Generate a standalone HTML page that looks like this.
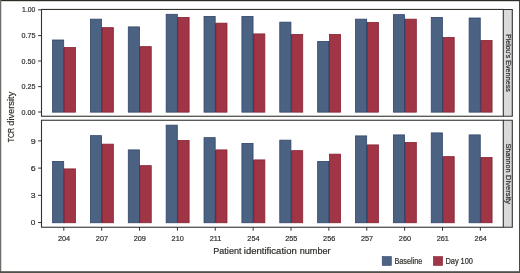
<!DOCTYPE html>
<html><head><meta charset="utf-8"><title>TCR diversity</title>
<style>html,body{margin:0;padding:0;background:#fff}svg{display:block}text{font-family:"Liberation Sans",sans-serif;fill:#2e2e2a;stroke:#2e2e2a;stroke-width:0.2px}</style></head>
<body>
<svg width="520" height="273" viewBox="0 0 520 273">
<rect x="0" y="0" width="520" height="273" fill="#fff"/>
<rect x="63.10" y="47.60" width="1.6" height="64.45" fill="#30466a"/>
<rect x="52.55" y="40.00" width="11.15" height="72.15" fill="#4c6283" stroke="#30466a" stroke-width="0.8"/>
<rect x="64.50" y="47.50" width="11.00" height="64.65" fill="#a03545" stroke="#872233" stroke-width="0.8"/>
<rect x="100.97" y="27.75" width="1.6" height="84.30" fill="#30466a"/>
<rect x="90.42" y="19.15" width="11.15" height="93.00" fill="#4c6283" stroke="#30466a" stroke-width="0.8"/>
<rect x="102.37" y="27.65" width="11.00" height="84.50" fill="#a03545" stroke="#872233" stroke-width="0.8"/>
<rect x="138.84" y="46.75" width="1.6" height="65.30" fill="#30466a"/>
<rect x="128.29" y="26.90" width="11.15" height="85.25" fill="#4c6283" stroke="#30466a" stroke-width="0.8"/>
<rect x="140.24" y="46.65" width="11.00" height="65.50" fill="#a03545" stroke="#872233" stroke-width="0.8"/>
<rect x="176.71" y="17.50" width="1.6" height="94.55" fill="#30466a"/>
<rect x="166.16" y="14.30" width="11.15" height="97.85" fill="#4c6283" stroke="#30466a" stroke-width="0.8"/>
<rect x="178.11" y="17.40" width="11.00" height="94.75" fill="#a03545" stroke="#872233" stroke-width="0.8"/>
<rect x="214.58" y="23.25" width="1.6" height="88.80" fill="#30466a"/>
<rect x="204.03" y="16.40" width="11.15" height="95.75" fill="#4c6283" stroke="#30466a" stroke-width="0.8"/>
<rect x="215.98" y="23.15" width="11.00" height="89.00" fill="#a03545" stroke="#872233" stroke-width="0.8"/>
<rect x="252.45" y="34.00" width="1.6" height="78.05" fill="#30466a"/>
<rect x="241.90" y="16.40" width="11.15" height="95.75" fill="#4c6283" stroke="#30466a" stroke-width="0.8"/>
<rect x="253.85" y="33.90" width="11.00" height="78.25" fill="#a03545" stroke="#872233" stroke-width="0.8"/>
<rect x="290.32" y="34.50" width="1.6" height="77.55" fill="#30466a"/>
<rect x="279.77" y="22.15" width="11.15" height="90.00" fill="#4c6283" stroke="#30466a" stroke-width="0.8"/>
<rect x="291.72" y="34.40" width="11.00" height="77.75" fill="#a03545" stroke="#872233" stroke-width="0.8"/>
<rect x="328.19" y="41.50" width="1.6" height="70.55" fill="#30466a"/>
<rect x="317.64" y="41.40" width="11.15" height="70.75" fill="#4c6283" stroke="#30466a" stroke-width="0.8"/>
<rect x="329.59" y="34.40" width="11.00" height="77.75" fill="#a03545" stroke="#872233" stroke-width="0.8"/>
<rect x="366.06" y="22.50" width="1.6" height="89.55" fill="#30466a"/>
<rect x="355.51" y="19.15" width="11.15" height="93.00" fill="#4c6283" stroke="#30466a" stroke-width="0.8"/>
<rect x="367.46" y="22.40" width="11.00" height="89.75" fill="#a03545" stroke="#872233" stroke-width="0.8"/>
<rect x="403.93" y="19.25" width="1.6" height="92.80" fill="#30466a"/>
<rect x="393.38" y="14.65" width="11.15" height="97.50" fill="#4c6283" stroke="#30466a" stroke-width="0.8"/>
<rect x="405.33" y="19.15" width="11.00" height="93.00" fill="#a03545" stroke="#872233" stroke-width="0.8"/>
<rect x="441.80" y="37.50" width="1.6" height="74.55" fill="#30466a"/>
<rect x="431.25" y="17.40" width="11.15" height="94.75" fill="#4c6283" stroke="#30466a" stroke-width="0.8"/>
<rect x="443.20" y="37.40" width="11.00" height="74.75" fill="#a03545" stroke="#872233" stroke-width="0.8"/>
<rect x="479.67" y="40.50" width="1.6" height="71.55" fill="#30466a"/>
<rect x="469.12" y="18.00" width="11.15" height="94.15" fill="#4c6283" stroke="#30466a" stroke-width="0.8"/>
<rect x="481.07" y="40.40" width="11.00" height="71.75" fill="#a03545" stroke="#872233" stroke-width="0.8"/>
<rect x="63.10" y="169.00" width="1.6" height="53.65" fill="#30466a"/>
<rect x="52.55" y="161.40" width="11.15" height="61.35" fill="#4c6283" stroke="#30466a" stroke-width="0.8"/>
<rect x="64.50" y="168.90" width="11.00" height="53.85" fill="#a03545" stroke="#872233" stroke-width="0.8"/>
<rect x="100.97" y="144.25" width="1.6" height="78.40" fill="#30466a"/>
<rect x="90.42" y="135.65" width="11.15" height="87.10" fill="#4c6283" stroke="#30466a" stroke-width="0.8"/>
<rect x="102.37" y="144.15" width="11.00" height="78.60" fill="#a03545" stroke="#872233" stroke-width="0.8"/>
<rect x="138.84" y="165.75" width="1.6" height="56.90" fill="#30466a"/>
<rect x="128.29" y="149.90" width="11.15" height="72.85" fill="#4c6283" stroke="#30466a" stroke-width="0.8"/>
<rect x="140.24" y="165.65" width="11.00" height="57.10" fill="#a03545" stroke="#872233" stroke-width="0.8"/>
<rect x="176.71" y="140.50" width="1.6" height="82.15" fill="#30466a"/>
<rect x="166.16" y="125.15" width="11.15" height="97.60" fill="#4c6283" stroke="#30466a" stroke-width="0.8"/>
<rect x="178.11" y="140.40" width="11.00" height="82.35" fill="#a03545" stroke="#872233" stroke-width="0.8"/>
<rect x="214.58" y="150.00" width="1.6" height="72.65" fill="#30466a"/>
<rect x="204.03" y="137.65" width="11.15" height="85.10" fill="#4c6283" stroke="#30466a" stroke-width="0.8"/>
<rect x="215.98" y="149.90" width="11.00" height="72.85" fill="#a03545" stroke="#872233" stroke-width="0.8"/>
<rect x="252.45" y="160.00" width="1.6" height="62.65" fill="#30466a"/>
<rect x="241.90" y="143.40" width="11.15" height="79.35" fill="#4c6283" stroke="#30466a" stroke-width="0.8"/>
<rect x="253.85" y="159.90" width="11.00" height="62.85" fill="#a03545" stroke="#872233" stroke-width="0.8"/>
<rect x="290.32" y="150.75" width="1.6" height="71.90" fill="#30466a"/>
<rect x="279.77" y="140.15" width="11.15" height="82.60" fill="#4c6283" stroke="#30466a" stroke-width="0.8"/>
<rect x="291.72" y="150.65" width="11.00" height="72.10" fill="#a03545" stroke="#872233" stroke-width="0.8"/>
<rect x="328.19" y="161.50" width="1.6" height="61.15" fill="#30466a"/>
<rect x="317.64" y="161.40" width="11.15" height="61.35" fill="#4c6283" stroke="#30466a" stroke-width="0.8"/>
<rect x="329.59" y="154.15" width="11.00" height="68.60" fill="#a03545" stroke="#872233" stroke-width="0.8"/>
<rect x="366.06" y="145.00" width="1.6" height="77.65" fill="#30466a"/>
<rect x="355.51" y="135.90" width="11.15" height="86.85" fill="#4c6283" stroke="#30466a" stroke-width="0.8"/>
<rect x="367.46" y="144.90" width="11.00" height="77.85" fill="#a03545" stroke="#872233" stroke-width="0.8"/>
<rect x="403.93" y="142.50" width="1.6" height="80.15" fill="#30466a"/>
<rect x="393.38" y="134.90" width="11.15" height="87.85" fill="#4c6283" stroke="#30466a" stroke-width="0.8"/>
<rect x="405.33" y="142.40" width="11.00" height="80.35" fill="#a03545" stroke="#872233" stroke-width="0.8"/>
<rect x="441.80" y="156.75" width="1.6" height="65.90" fill="#30466a"/>
<rect x="431.25" y="132.90" width="11.15" height="89.85" fill="#4c6283" stroke="#30466a" stroke-width="0.8"/>
<rect x="443.20" y="156.65" width="11.00" height="66.10" fill="#a03545" stroke="#872233" stroke-width="0.8"/>
<rect x="479.67" y="157.50" width="1.6" height="65.15" fill="#30466a"/>
<rect x="469.12" y="134.90" width="11.15" height="87.85" fill="#4c6283" stroke="#30466a" stroke-width="0.8"/>
<rect x="481.07" y="157.40" width="11.00" height="65.35" fill="#a03545" stroke="#872233" stroke-width="0.8"/>
<rect x="503.3" y="9.45" width="9.00" height="106.80" fill="#dbd9da"/>
<path d="M503.3 9.45H512.3V116.25H503.3" fill="none" stroke="#33332e" stroke-width="1.1"/>
<rect x="41.5" y="9.45" width="461.80" height="106.80" fill="none" stroke="#33332e" stroke-width="1.1"/>
<rect x="503.3" y="120.25" width="9.00" height="107.00" fill="#dbd9da"/>
<path d="M503.3 120.25H512.3V227.25H503.3" fill="none" stroke="#33332e" stroke-width="1.1"/>
<rect x="41.5" y="120.25" width="461.80" height="107.00" fill="none" stroke="#33332e" stroke-width="1.1"/>
<line x1="38.1" x2="41.5" y1="112.0" y2="112.0" stroke="#33332e" stroke-width="1"/>
<text x="21.58" y="114.5" font-size="8" textLength="13.85" lengthAdjust="spacingAndGlyphs">0.00</text>
<line x1="38.1" x2="41.5" y1="86.6" y2="86.6" stroke="#33332e" stroke-width="1"/>
<text x="21.58" y="89.1" font-size="8" textLength="13.97" lengthAdjust="spacingAndGlyphs">0.25</text>
<line x1="38.1" x2="41.5" y1="61.0" y2="61.0" stroke="#33332e" stroke-width="1"/>
<text x="21.58" y="63.5" font-size="8" textLength="13.85" lengthAdjust="spacingAndGlyphs">0.50</text>
<line x1="38.1" x2="41.5" y1="35.6" y2="35.6" stroke="#33332e" stroke-width="1"/>
<text x="21.58" y="38.1" font-size="8" textLength="13.97" lengthAdjust="spacingAndGlyphs">0.75</text>
<line x1="38.1" x2="41.5" y1="9.85" y2="9.85" stroke="#33332e" stroke-width="1"/>
<text x="22.07" y="12.35" font-size="8" textLength="13.35" lengthAdjust="spacingAndGlyphs">1.00</text>
<line x1="38.1" x2="41.5" y1="222.55" y2="222.55" stroke="#33332e" stroke-width="1"/>
<text x="30.84" y="225.4" font-size="8" textLength="4.62" lengthAdjust="spacingAndGlyphs">0</text>
<line x1="38.1" x2="41.5" y1="195.33" y2="195.33" stroke="#33332e" stroke-width="1"/>
<text x="30.83" y="198.18" font-size="8" textLength="4.76" lengthAdjust="spacingAndGlyphs">3</text>
<line x1="38.1" x2="41.5" y1="168.1" y2="168.1" stroke="#33332e" stroke-width="1"/>
<text x="30.69" y="170.95" font-size="8" textLength="4.92" lengthAdjust="spacingAndGlyphs">6</text>
<line x1="38.1" x2="41.5" y1="140.88" y2="140.88" stroke="#33332e" stroke-width="1"/>
<text x="30.69" y="143.73" font-size="8" textLength="4.92" lengthAdjust="spacingAndGlyphs">9</text>
<line x1="63.80" x2="63.80" y1="227.25" y2="230.7" stroke="#33332e" stroke-width="1"/>
<text x="64.10" y="240.8" font-size="8.0" text-anchor="middle" transform="translate(64.10,0) scale(0.915,1) translate(-64.10,0)">204</text>
<line x1="101.67" x2="101.67" y1="227.25" y2="230.7" stroke="#33332e" stroke-width="1"/>
<text x="101.97" y="240.8" font-size="8.0" text-anchor="middle" transform="translate(101.97,0) scale(0.915,1) translate(-101.97,0)">207</text>
<line x1="139.54" x2="139.54" y1="227.25" y2="230.7" stroke="#33332e" stroke-width="1"/>
<text x="139.84" y="240.8" font-size="8.0" text-anchor="middle" transform="translate(139.84,0) scale(0.915,1) translate(-139.84,0)">209</text>
<line x1="177.41" x2="177.41" y1="227.25" y2="230.7" stroke="#33332e" stroke-width="1"/>
<text x="177.71" y="240.8" font-size="8.0" text-anchor="middle" transform="translate(177.71,0) scale(0.915,1) translate(-177.71,0)">210</text>
<line x1="215.28" x2="215.28" y1="227.25" y2="230.7" stroke="#33332e" stroke-width="1"/>
<text x="215.58" y="240.8" font-size="8.0" text-anchor="middle" transform="translate(215.58,0) scale(0.915,1) translate(-215.58,0)">211</text>
<line x1="253.15" x2="253.15" y1="227.25" y2="230.7" stroke="#33332e" stroke-width="1"/>
<text x="253.45" y="240.8" font-size="8.0" text-anchor="middle" transform="translate(253.45,0) scale(0.915,1) translate(-253.45,0)">254</text>
<line x1="291.02" x2="291.02" y1="227.25" y2="230.7" stroke="#33332e" stroke-width="1"/>
<text x="291.32" y="240.8" font-size="8.0" text-anchor="middle" transform="translate(291.32,0) scale(0.915,1) translate(-291.32,0)">255</text>
<line x1="328.89" x2="328.89" y1="227.25" y2="230.7" stroke="#33332e" stroke-width="1"/>
<text x="329.19" y="240.8" font-size="8.0" text-anchor="middle" transform="translate(329.19,0) scale(0.915,1) translate(-329.19,0)">256</text>
<line x1="366.76" x2="366.76" y1="227.25" y2="230.7" stroke="#33332e" stroke-width="1"/>
<text x="367.06" y="240.8" font-size="8.0" text-anchor="middle" transform="translate(367.06,0) scale(0.915,1) translate(-367.06,0)">257</text>
<line x1="404.63" x2="404.63" y1="227.25" y2="230.7" stroke="#33332e" stroke-width="1"/>
<text x="404.93" y="240.8" font-size="8.0" text-anchor="middle" transform="translate(404.93,0) scale(0.915,1) translate(-404.93,0)">260</text>
<line x1="442.50" x2="442.50" y1="227.25" y2="230.7" stroke="#33332e" stroke-width="1"/>
<text x="442.80" y="240.8" font-size="8.0" text-anchor="middle" transform="translate(442.80,0) scale(0.915,1) translate(-442.80,0)">261</text>
<line x1="480.37" x2="480.37" y1="227.25" y2="230.7" stroke="#33332e" stroke-width="1"/>
<text x="480.67" y="240.8" font-size="8.0" text-anchor="middle" transform="translate(480.67,0) scale(0.915,1) translate(-480.67,0)">264</text>
<text x="213.29" y="253.75" font-size="9.1" textLength="28.18" lengthAdjust="spacingAndGlyphs">Patient</text>
<text x="243.80" y="253.75" font-size="9.1" textLength="52.98" lengthAdjust="spacingAndGlyphs">identification</text>
<text x="299.68" y="253.75" font-size="9.1" textLength="30.97" lengthAdjust="spacingAndGlyphs">number</text>
<text transform="translate(13.65,142.36) rotate(-90)" font-size="9.2" textLength="14.40" lengthAdjust="spacingAndGlyphs">TCR</text>
<text transform="translate(13.65,125.74) rotate(-90)" font-size="9.2" textLength="34.04" lengthAdjust="spacingAndGlyphs">diversity</text>
<text transform="translate(505.5,34.21) rotate(90)" stroke="none" font-size="7.5" textLength="24.00" lengthAdjust="spacingAndGlyphs">Pielou’s</text>
<text transform="translate(505.5,60.13) rotate(90)" stroke="none" font-size="7.5" textLength="31.84" lengthAdjust="spacingAndGlyphs">Evenness</text>
<text transform="translate(505.5,143.52) rotate(90)" stroke="none" font-size="7.5" textLength="28.88" lengthAdjust="spacingAndGlyphs">Shannon</text>
<text transform="translate(505.5,175.11) rotate(90)" stroke="none" font-size="7.5" textLength="28.89" lengthAdjust="spacingAndGlyphs">Diversity</text>
<rect x="382.2" y="256.55" width="9.1" height="8.9" fill="#4c6283" stroke="#30466a" stroke-width="0.6"/>
<text x="394.43" y="263.8" font-size="8.2" textLength="27.97" lengthAdjust="spacingAndGlyphs">Baseline</text>
<rect x="433.4" y="256.55" width="9.2" height="8.9" fill="#a03545" stroke="#872233" stroke-width="0.6"/>
<text x="445.41" y="263.8" font-size="8.2" textLength="13.34" lengthAdjust="spacingAndGlyphs">Day</text>
<text x="460.54" y="263.8" font-size="8.2" textLength="12.40" lengthAdjust="spacingAndGlyphs">100</text>
<rect x="0" y="0" width="520" height="1.2" fill="#2c2c27"/>
<rect x="0" y="0" width="1.25" height="273" fill="#6e6e69"/>
<rect x="519.1" y="0" width="0.9" height="273" fill="#33332e"/>
<rect x="0" y="271.2" width="520" height="1.8" fill="#50504a"/>
</svg>
</body></html>
